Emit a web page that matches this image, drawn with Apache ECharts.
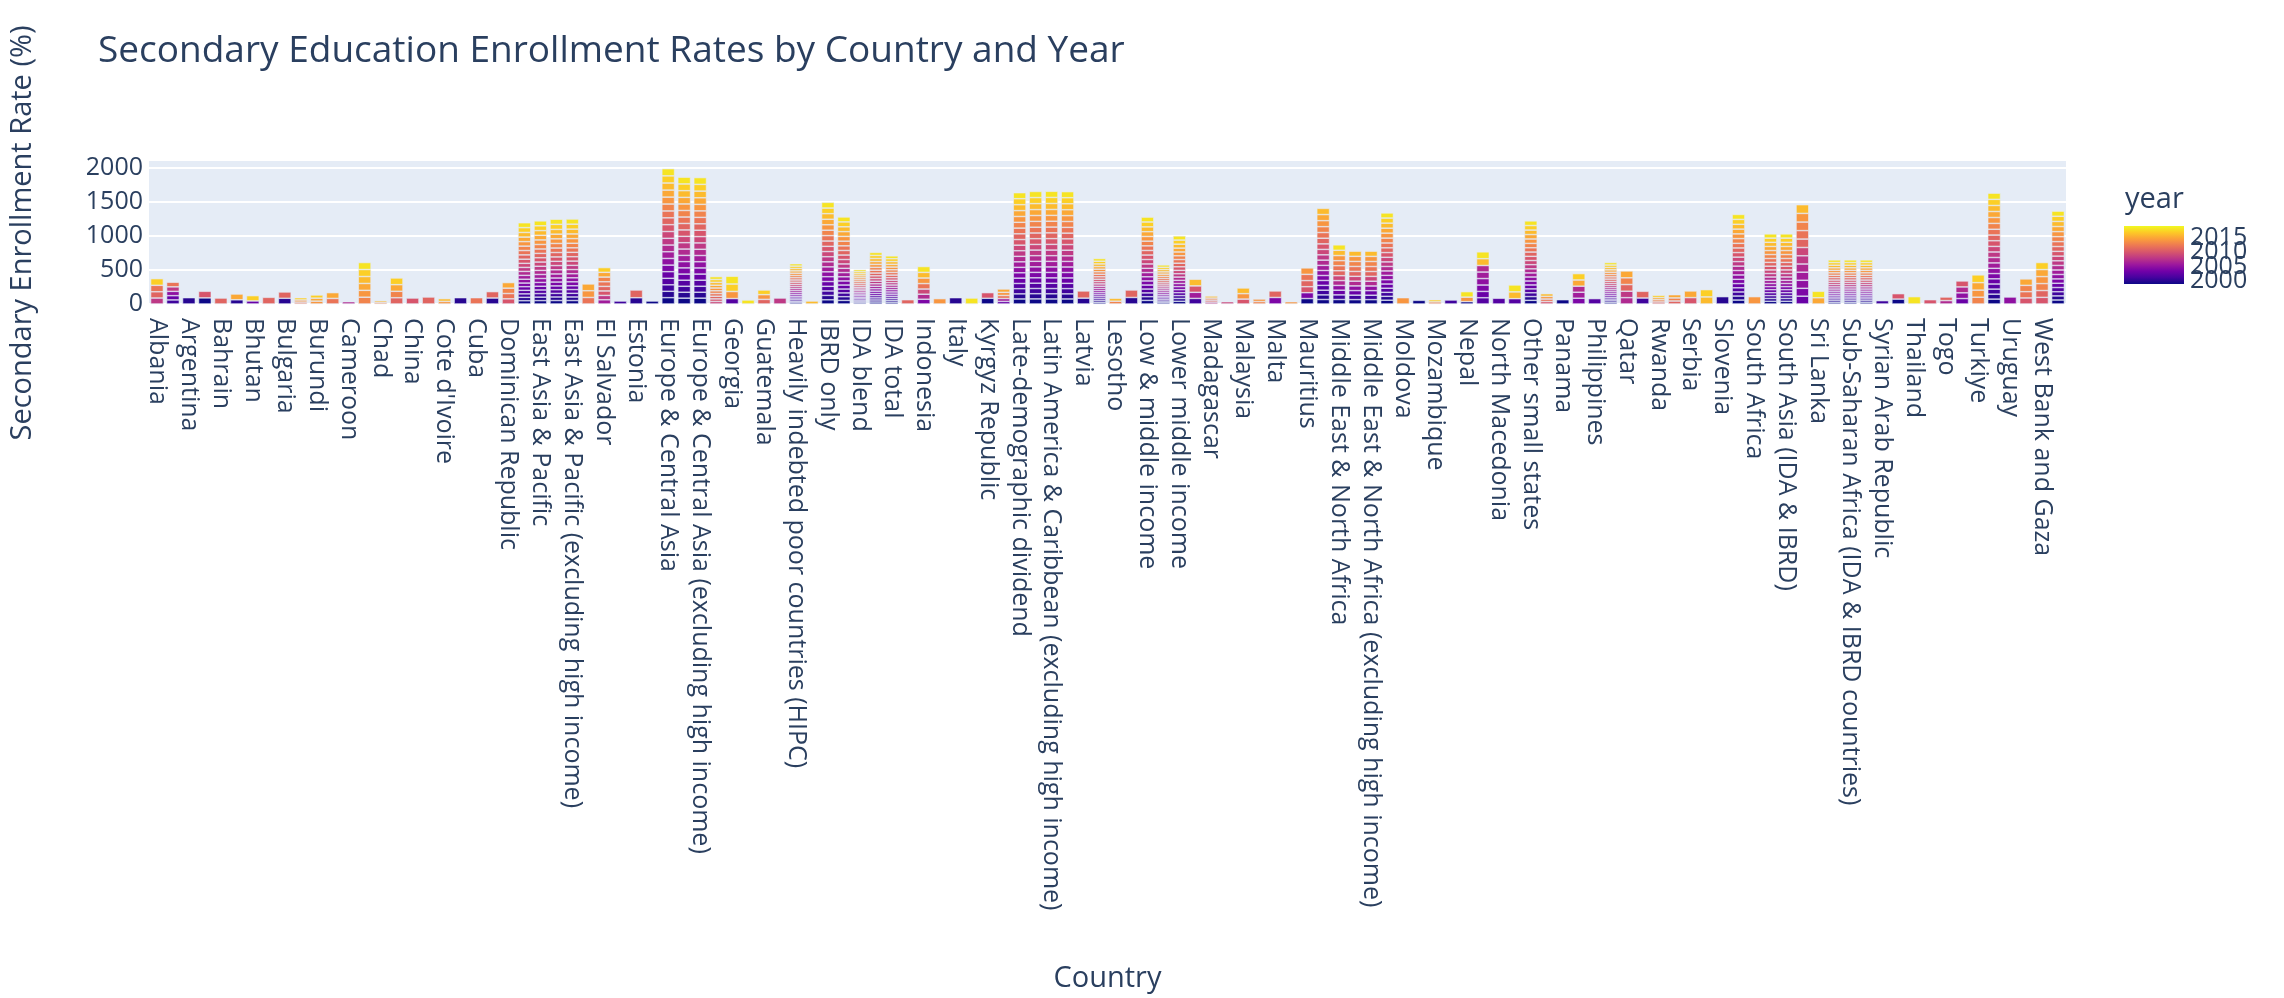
<!DOCTYPE html>
<html><head><meta charset="utf-8">
<script src="https://cdn.jsdelivr.net/npm/echarts@6/dist/echarts.min.js"></script>
<style>html,body{margin:0;padding:0;background:#fff}#chart{width:2284px;height:998px}</style>
</head><body><div id="chart"></div>
<script>
const countries = [
"Albania","Arab World","Argentina","Armenia","Bahrain","Bangladesh","Bhutan","Bosnia and Herzegovina","Bulgaria","Burkina Faso",
"Burundi","Cabo Verde","Cameroon","Central Europe and the Baltics","Chad","Chile","China","Colombia","Cote d'Ivoire","Croatia",
"Cuba","Czechia","Dominican Republic","Early-demographic dividend","East Asia & Pacific","East Asia & Pacific (IDA & IBRD countries)","East Asia & Pacific (excluding high income)","Ecuador","El Salvador","Eritrea",
"Estonia","Eswatini","Europe & Central Asia","Europe & Central Asia (IDA & IBRD countries)","Europe & Central Asia (excluding high income)","Fragile and conflict affected situations","Georgia","Ghana","Guatemala","Guyana",
"Heavily indebted poor countries (HIPC)","Honduras","IBRD only","IDA & IBRD total","IDA blend","IDA only","IDA total","India","Indonesia","Iraq",
"Italy","Jamaica","Kyrgyz Republic","Lao PDR","Late-demographic dividend","Latin America & Caribbean","Latin America & Caribbean (excluding high income)","Latin America & the Caribbean (IDA & IBRD countries)","Latvia","Least developed countries: UN classification",
"Lesotho","Lithuania","Low & middle income","Low income","Lower middle income","Luxembourg","Madagascar","Malawi","Malaysia","Mali",
"Malta","Mauritania","Mauritius","Mexico","Middle East & North Africa","Middle East & North Africa (IDA & IBRD countries)","Middle East & North Africa (excluding high income)","Middle income","Moldova","Morocco",
"Mozambique","Myanmar","Nepal","New Zealand","North Macedonia","Oman","Other small states","Pakistan","Panama","Paraguay",
"Philippines","Pre-demographic dividend","Qatar","Romania","Rwanda","Senegal","Serbia","Seychelles","Slovenia","Small states",
"South Africa","South Asia","South Asia (IDA & IBRD)","Spain","Sri Lanka","Sub-Saharan Africa","Sub-Saharan Africa (IDA & IBRD countries)","Sub-Saharan Africa (excluding high income)","Syrian Arab Republic","Tajikistan",
"Thailand","Timor-Leste","Togo","Tunisia","Turkiye","Upper middle income","Uruguay","Uzbekistan","West Bank and Gaza","World"
];

const fullYears = [1999,2000,2001,2002,2003,2004,2005,2006,2007,2008,2009,2010,2011,2012,2013,2014,2015,2016,2017,2018];
const menaYears = [1999,2001,2003,2005,2007,2009,2011,2012,2013,2014,2016,2018];
const menaSubYears = [1999,2001,2003,2005,2007,2009,2011,2012,2013,2014,2016];

const yearsByCountry = [
[2008,2011,2012,2017],[2001,2003,2005,2008,2012],[2000],[1999,2010],[2011],[2000,2015],[2003,2017],[2011],[2000,2011],[2012,2014,2017],
[2014,2015,2017],[2012,2015],[2007],[2013,2014,2015,2016,2017,2018],[2013,2016],[2011,2013,2015,2017],[2010],[2011],[2014,2016],[2000],
[2012],[2000,2011],[2010,2012,2013,2015],fullYears,fullYears,fullYears,fullYears,[2012,2014,2015],[2006,2008,2010,2011,2012,2013,2015,2017],[2001],
[2000,2011],[1999],fullYears,fullYears,fullYears,[2009,2010,2011,2012,2013,2014,2015,2016,2017,2018],[2002,2014,2017,2018],[2018],[2011,2014,2017],[2008],
fullYears,[2016],fullYears,fullYears,fullYears,fullYears,fullYears,[2011],[2004,2007,2009,2012,2014,2016,2018],[2014],
[2000],[2018],[1999,2010],[2003,2006,2012,2014,2015],fullYears,fullYears,fullYears,fullYears,[2000,2011],fullYears,
[2013,2016],[2000,2011],fullYears,fullYears,fullYears,[2001,2006,2010,2016],[2008,2011,2013,2016],[2009],[2010,2014,2016],[2013,2014],
[2004,2011],[2014],[1999,2004,2010,2011,2012,2014],[1999,2000,2001,2002,2003,2004,2005,2006,2007,2008,2009,2010,2011,2012,2013,2014,2015,2016],menaYears,menaSubYears,menaSubYears,fullYears,[2014],[1999],
[2013,2017],[2001],[1999,2014,2018],[2002,2003,2004,2005,2006,2007,2016,2018],[2002],[2002,2016,2018],fullYears,[2010,2012,2014,2016],[1999],[2004,2006,2007,2015,2017],
[2002],fullYears,[2007,2008,2011,2013,2015],[2001,2011],[2011,2013,2015,2017],[2011,2013,2015],[2010,2015],[2016,2017],[2000],fullYears,
[2014],fullYears,fullYears,[2003,2004,2005,2006,2007,2008,2009,2011,2012,2013,2014,2016],[2015,2018],fullYears,fullYears,fullYears,[2001],[1999,2010],
[2018],[2010],[2007,2011],[2003,2005,2007,2010],[2013,2014,2015,2017],fullYears,[2005],[2010,2012,2013,2015],[2010,2011,2013,2014,2015,2017],fullYears
];

const valuesByCountry = [
[88,92,95,98],[60,62,64,66,68],[93],[90,97],[88],[62,85],[45,78],[98],[84,93],[28,31,34],
[42,44,47],[82,85],[34],[100,101,101,102,103,103],[24,25],[92,95,97,99],[88],[103],[38,41],[93],
[93],[88,94],[76,78,79,82],
[48,50,51,52,53,54,56,57,58,59,60,61,63,64,65,66,67,68,71,72],
[50,51,52,53,55,56,58,59,60,61,62,63,64,65,66,67,68,69,71,72],
[51,52,53,54,56,57,59,60,61,62,63,64,65,66,67,68,69,70,74,76],
[51,52,54,55,56,58,59,60,61,62,63,64,65,66,67,68,69,71,73,76],
[96,99,100],[62,64,66,67,68,69,70,70],[44],
[92,114],[44],
[93,94,95,96,97,97,98,98,99,99,100,100,101,101,102,102,103,104,105,106],
[86,87,88,89,90,91,92,92,93,93,94,94,95,95,96,96,97,98,99,100],
[86,87,88,89,90,90,91,92,92,93,93,94,94,95,95,96,97,98,99,100],
[37,38,39,40,40,41,41,42,42,43],[80,104,110,114],[59],[68,69,69],[88],
[20,21,23,24,26,27,28,29,30,30,31,32,32,33,33,34,34,35,35,36],
[44],
[62,64,66,68,70,71,72,73,74,75,76,77,78,79,80,80,81,82,83,84],
[53,54,56,57,59,60,61,62,63,64,65,66,67,68,69,70,70,71,72,73],
[18,19,20,21,22,23,23,24,25,25,26,27,27,28,28,29,29,30,30,31],
[29,30,31,32,33,34,35,36,37,38,39,40,41,42,42,43,43,44,45,45],
[27,28,29,30,31,32,33,34,35,35,36,37,38,39,39,40,40,41,42,42],
[63],[70,74,76,80,82,83,86],[79],
[93],[88],[84,83],[38,42,45,47,49],
[74,75,76,77,78,79,80,81,81,82,82,83,84,84,85,86,86,87,88,89],
[75,76,77,78,79,80,81,82,82,83,83,84,84,85,86,86,87,88,89,90],
[74,76,77,78,79,80,81,82,83,83,84,84,85,85,86,86,87,88,89,90],
[74,75,77,78,79,80,81,82,82,83,83,84,84,85,86,86,87,88,89,89],
[86,106],
[25,26,27,28,29,30,31,32,33,34,34,35,36,37,37,38,38,39,40,40],
[41,43],[96,110],
[53,54,56,57,59,60,61,62,63,64,65,66,67,68,69,69,70,71,72,72],
[21,22,23,24,25,26,27,27,28,29,29,30,31,32,32,33,33,34,34,35],
[40,41,42,43,44,45,46,47,48,49,50,52,53,54,55,56,57,58,60,62],
[82,90,94,98],[28,29,30,31],[34],[72,80,84],[36,38],
[96,96],[34],[80,86,88,90,92,95],
[66,68,69,71,72,73,74,75,77,78,80,81,83,84,86,88,90,91],
[66,68,69,70,71,72,73,74,74,75,78,80],
[64,66,67,69,70,71,72,73,74,75,76],
[64,65,67,69,70,71,72,73,74,75,77],
[56,57,59,60,62,63,64,65,66,67,68,69,70,71,72,73,73,74,75,75],
[93],[54],
[31,32],[59],[34,67,81],[92,93,94,95,96,96,100,101],[84],[78,100,102],
[54,55,56,57,58,58,59,60,60,61,61,62,63,63,64,65,65,66,67,68],
[36,37,39,40],[63],[85,88,89,91,94],
[79],
[23,24,25,26,27,27,28,29,30,31,31,32,33,33,34,34,35,35,36,37],
[93,95,98,99,101],[88,99],[30,32,32,34],[44,45,48],[94,98],[104,107],[108],
[58,59,60,61,62,63,64,65,65,66,66,67,68,68,69,70,70,71,72,73],
[108],
[40,41,42,43,44,45,46,47,49,51,53,55,56,57,58,59,60,61,62,62],
[40,41,42,43,44,45,46,47,49,51,53,55,56,57,58,59,60,61,62,62],
[115,116,118,119,120,121,122,124,124,126,127,128],[92,95],
[24,25,26,27,28,29,30,31,32,33,33,34,35,35,36,37,37,38,39,40],
[24,25,26,27,28,29,30,31,32,33,33,34,35,35,36,37,37,38,39,40],
[24,25,26,27,28,29,30,31,32,33,33,34,35,35,36,37,37,38,39,40],
[49],[72,80],
[108],[63],[50,53],[80,84,87,88],[100,104,110,114],
[72,73,74,75,76,77,78,79,80,81,82,83,84,85,86,87,88,89,90,91],
[103],[89,92,93,95],[98,100,102,103,103,104],
[59,60,61,62,63,64,65,66,67,68,69,70,71,72,73,74,75,75,76,76]
];

const colorbarTicks = [2000, 2005, 2010, 2015];
const colorMin = 1999, colorMax = 2019;
const plasma = ['#0d0887','#46039f','#7201a8','#9c179e','#bd3786','#d8576b','#ed7953','#fb9f3a','#fdca26','#f0f921'];

function hex2rgb(h){return [parseInt(h.slice(1,3),16),parseInt(h.slice(3,5),16),parseInt(h.slice(5,7),16)];}
function plasmaColor(t){
  t = Math.max(0, Math.min(1, t));
  const n = plasma.length - 1;
  const p = t * n, i = Math.min(Math.floor(p), n - 1), f = p - i;
  const a = hex2rgb(plasma[i]), b = hex2rgb(plasma[i+1]);
  const c = a.map((v,k)=>Math.round(v + (b[k]-v)*f));
  return 'rgb(' + c.join(',') + ')';
}

const allYears = Array.from(new Set(yearsByCountry.flat())).sort((a,b)=>a-b);
const series = allYears.map(y => ({
  type: 'bar',
  name: String(y),
  stack: 'total',
  barCategoryGap: '20%',
  data: countries.map((c, i) => {
    const k = yearsByCountry[i].indexOf(y);
    return k >= 0 ? valuesByCountry[i][k] : null;
  }),
  itemStyle: { color: plasmaColor((y - colorMin) / (colorMax - colorMin)), borderColor: '#E5ECF6', borderWidth: 0.6 },
  emphasis: { disabled: true },
  animation: false
}));

const chart = echarts.init(document.getElementById('chart'), null, {renderer: 'canvas'});
const FONT = 'Open Sans';
const TXT = '#2a3f5f';

const cb = { x: 2124, y: 226, w: 60, h: 58 };
const stops = plasma.map((c, i) => ({ offset: i / (plasma.length - 1), color: c }));
const graphics = [
  { type: 'rect', shape: { x: cb.x, y: cb.y, width: cb.w, height: cb.h },
    style: { fill: new echarts.graphic.LinearGradient(0, 1, 0, 0, stops) } },
  { type: 'text', x: cb.x + 1, y: 200, style: { text: 'year', fontSize: 29, fontFamily: FONT, fill: TXT, verticalAlign: 'middle' } }
];
colorbarTicks.forEach(yr => {
  graphics.push({ type: 'text', x: cb.x + cb.w + 6, y: cb.y + cb.h - (yr - colorMin) / (colorMax - colorMin) * cb.h,
    style: { text: String(yr), fontSize: 25, fontFamily: FONT, fill: TXT, verticalAlign: 'middle' } });
});

chart.setOption({
  backgroundColor: '#fff',
  animation: false,
  textStyle: { fontFamily: FONT, color: TXT },
  title: { text: 'Secondary Education Enrollment Rates by Country and Year', left: 93, top: 28,
    textStyle: { fontFamily: FONT, fontSize: 37, fontWeight: 'normal', color: TXT } },
  grid: { left: 138, right: 218, top: 162, bottom: 694, show: true, backgroundColor: '#E5ECF6', borderWidth: 0 },
  xAxis: {
    type: 'category', data: countries,
    name: 'Country', nameLocation: 'middle', nameGap: 660,
    nameTextStyle: { fontFamily: FONT, fontSize: 29, color: TXT },
    axisTick: { show: false }, axisLine: { show: false },
    axisLabel: { interval: 1, rotate: -90, margin: 14, fontSize: 25, fontFamily: FONT, color: TXT }
  },
  yAxis: {
    type: 'value', min: 0, max: 2088, interval: 500,
    name: 'Secondary Enrollment Rate (%)', nameLocation: 'middle', nameRotate: 90, nameGap: 112,
    nameTextStyle: { fontFamily: FONT, fontSize: 29, color: TXT },
    axisLine: { show: false }, axisTick: { show: false },
    axisLabel: { showMaxLabel: false, margin: 6, fontSize: 25, fontFamily: FONT, color: TXT, formatter: v => String(v) },
    splitLine: { lineStyle: { color: ['#ffffff','#ffffff','#ffffff','#ffffff','#ffffff','#E5ECF6'], width: 2 } }
  },
  series: series,
  graphic: graphics
});
</script>
</body></html>
